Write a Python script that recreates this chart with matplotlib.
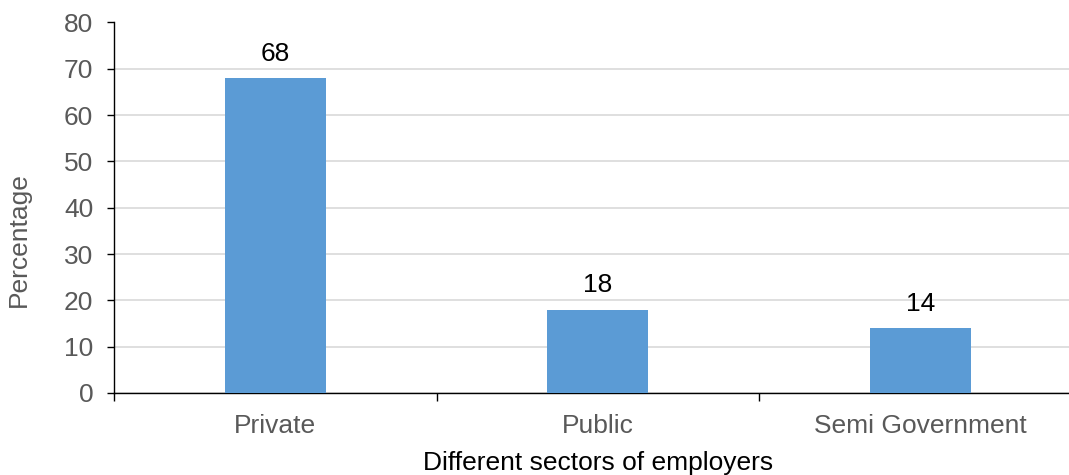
import matplotlib
matplotlib.use("Agg")
import matplotlib.pyplot as plt
from matplotlib.ticker import FixedLocator, NullFormatter

categories = ["Private", "Public", "Semi Government"]
values = [68, 18, 14]
yticks = [0, 10, 20, 30, 40, 50, 60, 70, 80]

plt.rcParams['font.family'] = ['Liberation Sans', 'DejaVu Sans']

FS = 19

fig = plt.figure(figsize=(10.69, 4.75), dpi=100)
ax = fig.add_axes([114/1069, 1 - 393/475, 1 - 114/1069, (393 - 22.5)/475])

x = list(range(len(categories)))
bars = ax.bar(x, values, width=0.313, color="#5B9BD5", zorder=3)

for xi, v in zip(x, values):
    ax.annotate(str(v), (xi, v), xytext=(0, 17.5), textcoords="offset points",
                ha="center", va="center", fontsize=FS, color="black")

ax.set_ylim(0, 80)
ax.set_xlim(-0.5, 2.461)
ax.set_yticks(yticks)
ax.yaxis.grid(True, color="#D9D9D9", linewidth=1.2, zorder=0)
ax.set_axisbelow(True)

ax.set_xticks(x)
ax.set_xticklabels(categories)
ax.tick_params(axis="x", which="major", length=0, pad=15, labelsize=FS, labelcolor="#595959")
ax.xaxis.set_minor_locator(FixedLocator([-0.5, 0.5, 1.5]))
ax.xaxis.set_minor_formatter(NullFormatter())
ax.tick_params(axis="x", which="minor", length=6, width=1, color="black", direction="out")
ax.tick_params(axis="y", length=5, width=1, color="black", labelsize=FS, labelcolor="#595959", pad=10)

for s in ["top", "right"]:
    ax.spines[s].set_visible(False)
ax.spines["left"].set_color("black")
ax.spines["bottom"].set_color("black")
ax.spines["left"].set_linewidth(1)
ax.spines["bottom"].set_linewidth(1)

fig.text(598/1069, 1 - 463/475, "Different sectors of employers", fontsize=FS,
         color="black", ha="center", va="center")
fig.text(19/1069, 1 - 240/475, "Percentage", fontsize=FS, color="#595959",
         ha="center", va="center", rotation=90)

fig.savefig("out.png", dpi=100)
